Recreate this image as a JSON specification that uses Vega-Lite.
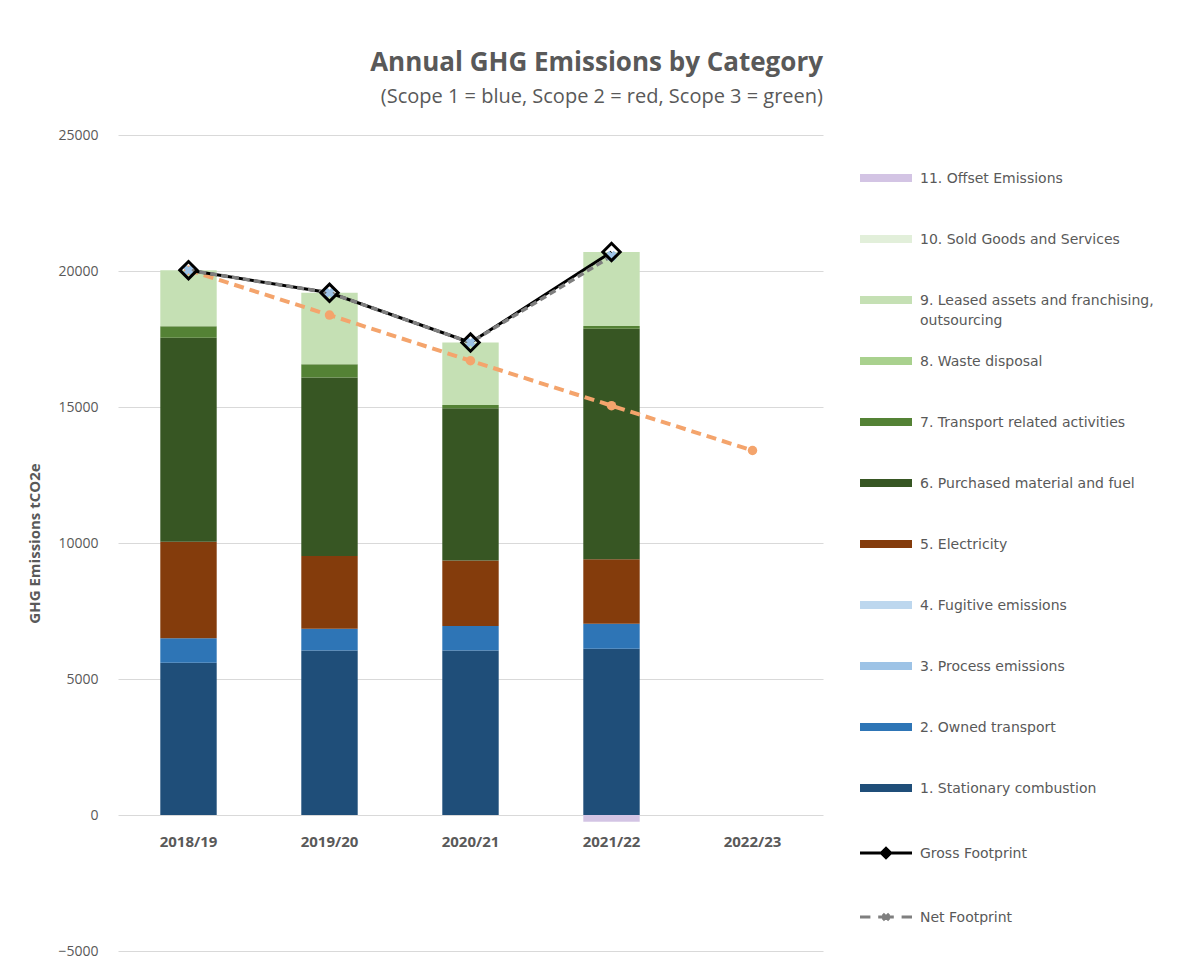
{
  "$schema": "https://vega.github.io/schema/vega-lite/v6.json",
  "width": 705,
  "height": 816,
  "padding": {"left": 27, "top": 50, "right": 10, "bottom": 10},
  "background": "white",
  "title": {
    "text": "Annual GHG Emissions by Category",
    "subtitle": "(Scope 1 = blue, Scope 2 = red, Scope 3 = green)",
    "anchor": "end",
    "frame": "group",
    "font": "Open Sans",
    "fontSize": 26,
    "fontWeight": "bold",
    "color": "#595959",
    "subtitleFont": "Open Sans",
    "subtitleFontSize": 20,
    "subtitleColor": "#595959",
    "subtitlePadding": 11,
    "offset": 21
  },
  "datasets": {
    "bars": [
      {"year": "2018/19", "cat": "1. Stationary combustion", "idx": 1, "value": 5600},
      {"year": "2018/19", "cat": "2. Owned transport", "idx": 2, "value": 900},
      {"year": "2018/19", "cat": "5. Electricity", "idx": 5, "value": 3550},
      {"year": "2018/19", "cat": "6. Purchased material and fuel", "idx": 6, "value": 7500},
      {"year": "2018/19", "cat": "7. Transport related activities", "idx": 7, "value": 420},
      {"year": "2018/19", "cat": "9. Leased assets and franchising, outsourcing", "idx": 9, "value": 2060},
      {"year": "2019/20", "cat": "1. Stationary combustion", "idx": 1, "value": 6050},
      {"year": "2019/20", "cat": "2. Owned transport", "idx": 2, "value": 800},
      {"year": "2019/20", "cat": "5. Electricity", "idx": 5, "value": 2670},
      {"year": "2019/20", "cat": "6. Purchased material and fuel", "idx": 6, "value": 6560},
      {"year": "2019/20", "cat": "7. Transport related activities", "idx": 7, "value": 490},
      {"year": "2019/20", "cat": "9. Leased assets and franchising, outsourcing", "idx": 9, "value": 2630},
      {"year": "2020/21", "cat": "1. Stationary combustion", "idx": 1, "value": 6050},
      {"year": "2020/21", "cat": "2. Owned transport", "idx": 2, "value": 900},
      {"year": "2020/21", "cat": "5. Electricity", "idx": 5, "value": 2410},
      {"year": "2020/21", "cat": "6. Purchased material and fuel", "idx": 6, "value": 5590},
      {"year": "2020/21", "cat": "7. Transport related activities", "idx": 7, "value": 120},
      {"year": "2020/21", "cat": "9. Leased assets and franchising, outsourcing", "idx": 9, "value": 2300},
      {"year": "2021/22", "cat": "1. Stationary combustion", "idx": 1, "value": 6110},
      {"year": "2021/22", "cat": "2. Owned transport", "idx": 2, "value": 920},
      {"year": "2021/22", "cat": "5. Electricity", "idx": 5, "value": 2370},
      {"year": "2021/22", "cat": "6. Purchased material and fuel", "idx": 6, "value": 8480},
      {"year": "2021/22", "cat": "7. Transport related activities", "idx": 7, "value": 100},
      {"year": "2021/22", "cat": "9. Leased assets and franchising, outsourcing", "idx": 9, "value": 2720},
      {"year": "2021/22", "cat": "11. Offset Emissions", "idx": 11, "value": -250}
    ],
    "lines": [
      {"year": "2018/19", "cat": "Gross Footprint", "value": 20030},
      {"year": "2019/20", "cat": "Gross Footprint", "value": 19200},
      {"year": "2020/21", "cat": "Gross Footprint", "value": 17370},
      {"year": "2021/22", "cat": "Gross Footprint", "value": 20700},
      {"year": "2018/19", "cat": "Net Footprint", "value": 20030},
      {"year": "2019/20", "cat": "Net Footprint", "value": 19200},
      {"year": "2020/21", "cat": "Net Footprint", "value": 17370},
      {"year": "2021/22", "cat": "Net Footprint", "value": 20550}
    ],
    "target": [
      {"year": "2018/19", "value": 20030},
      {"year": "2019/20", "value": 18380},
      {"year": "2020/21", "value": 16700},
      {"year": "2021/22", "value": 15050},
      {"year": "2022/23", "value": 13400}
    ]
  },
  "encoding": {
    "x": {
      "field": "year",
      "type": "nominal",
      "scale": {"domain": ["2018/19", "2019/20", "2020/21", "2021/22", "2022/23"], "paddingInner": 0.6, "paddingOuter": 0.3},
      "axis": {
        "title": null,
        "domain": false,
        "ticks": false,
        "labelAngle": 0,
        "labelFont": "Open Sans",
        "labelFontSize": 15,
        "labelFontWeight": "bold",
        "labelColor": "#595959",
        "offset": -136,
        "labelPadding": 19
      }
    },
    "y": {
      "field": "value",
      "type": "quantitative",
      "scale": {"domain": [-5000, 25000], "nice": false, "zero": false},
      "axis": {
        "title": "GHG Emissions  tCO2e",
        "values": [-5000, 0, 5000, 10000, 15000, 20000, 25000],
        "format": "d",
        "domain": false,
        "ticks": false,
        "gridColor": "#d9d9d9",
        "labelFont": "Open Sans",
        "labelFontSize": 14,
        "labelColor": "#595959",
        "labelPadding": 20,
        "titleFont": "Open Sans",
        "titleFontSize": 15,
        "titleFontWeight": "bold",
        "titleColor": "#595959",
        "titlePadding": 15
      }
    }
  },
  "layer": [
    {
      "data": {"name": "bars"},
      "mark": {"type": "bar"},
      "encoding": {
        "y": {"field": "value", "type": "quantitative", "stack": "zero"},
        "order": {"field": "idx", "type": "quantitative"},
        "color": {
          "field": "cat",
          "type": "nominal",
          "scale": {
            "domain": ["11. Offset Emissions", "10. Sold Goods and Services", "9. Leased assets and franchising, outsourcing", "8. Waste disposal", "7. Transport related activities", "6. Purchased material and fuel", "5. Electricity", "4. Fugitive emissions", "3. Process emissions", "2. Owned transport", "1. Stationary combustion", "Gross Footprint", "Net Footprint"],
            "range": ["#d3c4e4", "#e2efda", "#c5e0b4", "#a9d18e", "#548235", "#375623", "#843c0c", "#bdd7ee", "#9dc3e6", "#2e75b6", "#1f4e79", "#000000", "#7f7f7f"]
          },
          "legend": {
            "title": " ",
            "titleFontSize": 12,
            "titlePadding": 24,
            "orient": "right",
            "offset": 56,
            "padding": 0,
            "symbolSize": 2704,
            "symbolType": "square",
            "rowPadding": 26,
            "labelFont": "DejaVu Sans",
            "labelFontSize": 14,
            "labelColor": "#595959",
            "labelOffset": 27,
            "labelLimit": 400,
            "labelExpr": "datum.label == '9. Leased assets and franchising, outsourcing' ? ['9. Leased assets and franchising,', 'outsourcing'] : [datum.label, ' ']",
            "encode": {
              "symbols": {
                "update": {
                  "shape": {"signal": "datum.value == 'Gross Footprint' ? 'M-1,0H1M-0.18,0L0,-0.18L0.18,0L0,0.18Z' : datum.value == 'Net Footprint' ? 'M-1,0H-0.6M-0.3,0H0.3M0.6,0H1M-0.12,-0.12L0.12,0.12M-0.12,0.12L0.12,-0.12' : 'M-1,-0.15H1V0.15H-1Z'"},
                  "fill": {"signal": "datum.value == 'Net Footprint' ? 'transparent' : scale('color', datum.value)"},
                  "stroke": {"signal": "datum.value == 'Gross Footprint' ? '#000000' : datum.value == 'Net Footprint' ? '#7f7f7f' : 'transparent'"},
                  "strokeWidth": {"signal": "datum.value == 'Gross Footprint' || datum.value == 'Net Footprint' ? 3 : 0"},
                  "opacity": {"value": 1}
                }
              },
              "labels": {
                "update": {
                  "lineHeight": {"value": 20},
                  "baseline": {"value": "middle"},
                  "dy": {"value": 1}
                }
              }
            }
          }
        }
      }
    },
    {
      "data": {"name": "target"},
      "mark": {"type": "line", "stroke": "#f4a46c", "strokeWidth": 4, "strokeDash": [10, 6]}
    },
    {
      "data": {"name": "target"},
      "mark": {"type": "point", "shape": "circle", "filled": true, "color": "#f4a46c", "size": 90, "opacity": 1}
    },
    {
      "data": {"name": "lines"},
      "transform": [{"filter": "datum.cat == 'Gross Footprint'"}],
      "mark": {"type": "line", "strokeWidth": 3},
      "encoding": {"color": {"field": "cat", "type": "nominal"}}
    },
    {
      "data": {"name": "lines"},
      "transform": [{"filter": "datum.cat == 'Net Footprint'"}],
      "mark": {"type": "line", "strokeWidth": 3.5, "strokeDash": [7, 4]},
      "encoding": {"color": {"field": "cat", "type": "nominal"}}
    },
    {
      "data": {"name": "lines"},
      "transform": [{"filter": "datum.cat == 'Net Footprint'"}],
      "mark": {"type": "point", "shape": "cross", "angle": 45, "filled": true, "color": "#9dc3e6", "size": 110, "opacity": 1}
    },
    {
      "data": {"name": "lines"},
      "transform": [{"filter": "datum.cat == 'Gross Footprint'"}],
      "mark": {"type": "point", "shape": "diamond", "filled": false, "stroke": "#000000", "strokeWidth": 3, "size": 300, "opacity": 1}
    }
  ],
  "config": {
    "view": {"stroke": null},
    "font": "Open Sans"
  }
}
